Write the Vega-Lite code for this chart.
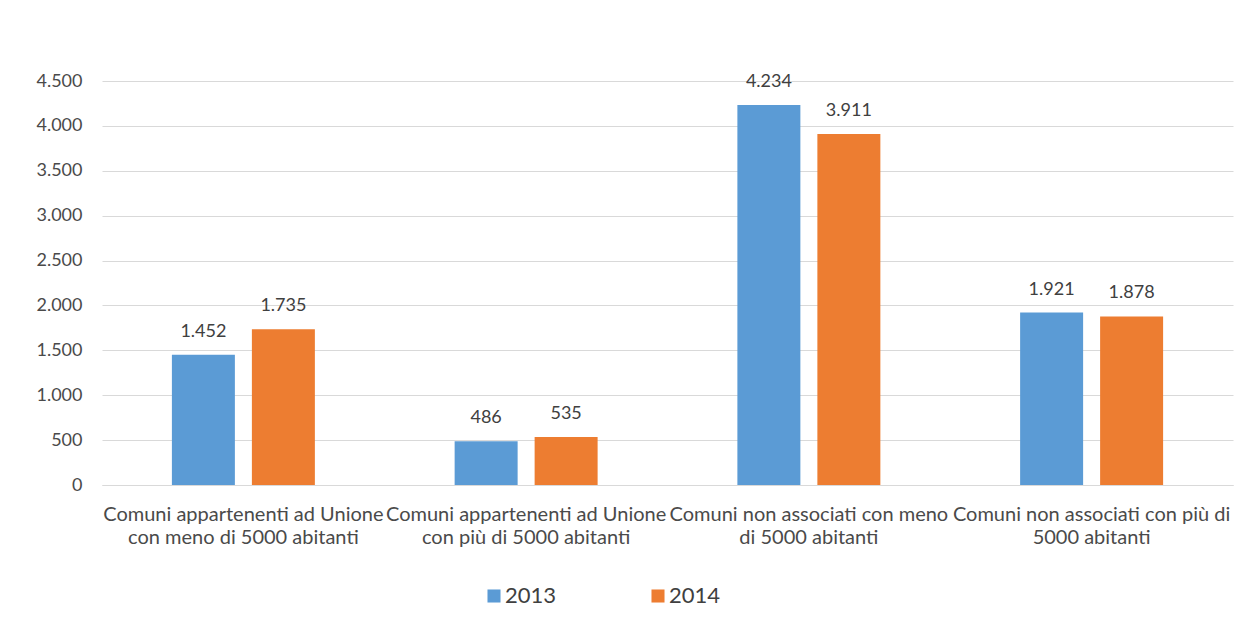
{
  "$schema": "https://vega.github.io/schema/vega-lite/v6.json",
  "width": 1131,
  "height": 404,
  "autosize": "none",
  "padding": {"left": 102, "top": 81, "right": 17, "bottom": 151},
  "background": "white",
  "config": {
    "view": {"stroke": null},
    "font": "Lato",
    "locale": {"number": {"decimal": ",", "thousands": ".", "grouping": [3], "currency": ["€", ""]}}
  },
  "data": {
    "values": [
      {"categoria": "Comuni appartenenti ad Unione con meno di 5000 abitanti", "anno": "2013", "valore": 1452},
      {"categoria": "Comuni appartenenti ad Unione con meno di 5000 abitanti", "anno": "2014", "valore": 1735},
      {"categoria": "Comuni appartenenti ad Unione con più di 5000 abitanti", "anno": "2013", "valore": 486},
      {"categoria": "Comuni appartenenti ad Unione con più di 5000 abitanti", "anno": "2014", "valore": 535},
      {"categoria": "Comuni non associati con meno di 5000 abitanti", "anno": "2013", "valore": 4234},
      {"categoria": "Comuni non associati con meno di 5000 abitanti", "anno": "2014", "valore": 3911},
      {"categoria": "Comuni non associati con più di 5000 abitanti", "anno": "2013", "valore": 1921},
      {"categoria": "Comuni non associati con più di 5000 abitanti", "anno": "2014", "valore": 1878}
    ]
  },
  "encoding": {
    "x": {
      "field": "categoria",
      "type": "nominal",
      "sort": null,
      "title": null,
      "scale": {"paddingInner": 0.4943, "paddingOuter": 0.2472},
      "axis": {
        "labelAngle": 0,
        "domainColor": "#D9D9D9",
        "domainWidth": 1,
        "ticks": false,
        "labelPadding": 19,
        "labelFontSize": 20,
        "labelColor": "#4a4a4a",
        "labelLimit": 400,
        "labelOverlap": false,
        "labelBound": false,
        "labelLineHeight": 23,
        "labelExpr": "datum.value == 'Comuni appartenenti ad Unione con meno di 5000 abitanti' ? ['Comuni appartenenti ad Unione', 'con meno di 5000 abitanti'] : datum.value == 'Comuni appartenenti ad Unione con più di 5000 abitanti' ? ['Comuni appartenenti ad Unione', 'con più di 5000 abitanti'] : datum.value == 'Comuni non associati con meno di 5000 abitanti' ? ['Comuni non associati con meno', 'di 5000 abitanti'] : ['Comuni non associati con più di', '5000 abitanti']"
      }
    },
    "xOffset": {
      "field": "anno",
      "type": "nominal",
      "scale": {"paddingInner": 0.2125, "paddingOuter": 0}
    },
    "y": {
      "field": "valore",
      "type": "quantitative",
      "title": null,
      "scale": {"domain": [0, 4500]},
      "axis": {
        "values": [0, 500, 1000, 1500, 2000, 2500, 3000, 3500, 4000, 4500],
        "format": ",d",
        "domain": false,
        "ticks": false,
        "labelPadding": 20,
        "labelFontSize": 18,
        "labelColor": "#4a4a4a",
        "gridColor": "#D9D9D9",
        "gridWidth": 1
      }
    }
  },
  "layer": [
    {
      "mark": {"type": "bar"},
      "encoding": {
        "color": {
          "field": "anno",
          "type": "nominal",
          "scale": {"domain": ["2013", "2014"], "range": ["#5B9BD5", "#ED7D31"]},
          "legend": {
            "title": null,
            "orient": "none",
            "legendX": 381,
            "legendY": 504,
            "direction": "horizontal",
            "symbolType": "square",
            "symbolSize": 170,
            "symbolStrokeWidth": 0,
            "labelFontSize": 22,
            "labelColor": "#404040",
            "labelOffset": 0,
            "columnPadding": 90
          }
        }
      }
    },
    {
      "mark": {"type": "text", "baseline": "alphabetic", "dy": -18, "fontSize": 18, "color": "#404040"},
      "encoding": {
        "text": {"field": "valore", "type": "quantitative", "format": ",d"}
      }
    }
  ]
}
